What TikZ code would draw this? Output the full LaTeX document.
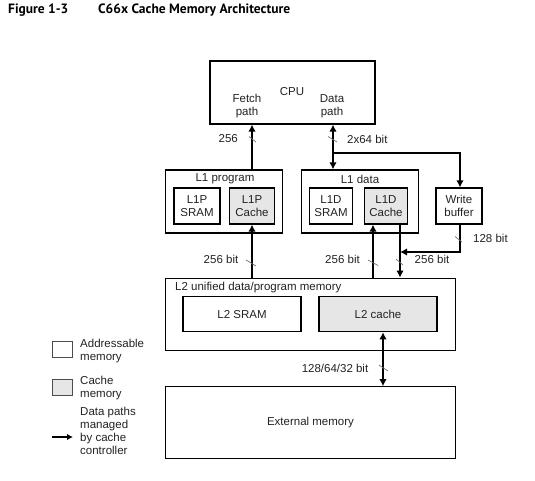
\documentclass[tikz,border=0pt]{standalone}
\usepackage{fontspec}
\setmainfont{Liberation Sans}
\newfontfamily\titlefont{PT Sans}
\usetikzlibrary{arrows.meta}
\definecolor{txt}{HTML}{222222}
\definecolor{cachegray}{HTML}{E6E6E6}
\begin{document}
\begin{tikzpicture}[x=1pt,y=-1pt,
  lbl/.style={font=\fontsize{11.5}{13}\selectfont, text=txt, inner sep=0pt, align=center},
  box/.style={draw=black, line width=1.2pt, inner sep=0pt, align=center, font=\fontsize{11.5}{13}\selectfont, text=txt},
  cbox/.style={box, fill=cachegray},
  bus/.style={line width=2.6pt, -{Latex[length=7pt,width=7.5pt]}},
  bibus/.style={line width=2.6pt, {Latex[length=7pt,width=7.5pt]}-{Latex[length=7pt,width=7.5pt]}},
  tickm/.style={draw=black!55, line width=0.7pt}
]
\useasboundingbox (0,0) rectangle (535,480);
% title
\node[anchor=west, inner sep=0pt, font=\titlefont\bfseries\fontsize{13.5}{15}\selectfont] (fig) at (8,10) {Figure 1-3};
\node[anchor=west, inner sep=0pt, font=\titlefont\bfseries\fontsize{13.5}{15}\selectfont] (ttl) at (98,10) {C66x Cache Memory Architecture};

% boxes
\node[box, minimum width=165, minimum height=63] (cpu) at (292.5,92.5) {};
\node[lbl] (cpul) at (292,92) {CPU};
\node[lbl] (fetch) at (247,106) {Fetch\\path};
\node[lbl] (datap) at (332,106) {Data\\path};

\node[box, minimum width=117, minimum height=63] (l1p) at (224.3,201.5) {};
\node[lbl] (l1pl) at (225,179) {L1 program};
\node[box, minimum width=46, minimum height=36] (l1psram) at (197,206) {L1P\\SRAM};
\node[cbox, minimum width=45, minimum height=36] (l1pcache) at (252,206) {L1P\\Cache};

\node[box, minimum width=117, minimum height=63] (l1d) at (360.3,201.5) {};
\node[lbl] (l1dl) at (360,179) {L1 data};
\node[box, minimum width=43, minimum height=36] (l1dsram) at (331,206) {L1D\\SRAM};
\node[cbox, minimum width=43, minimum height=36] (l1dcache) at (386,206) {L1D\\Cache};

\node[box, minimum width=46, minimum height=36] (wbuf) at (459,206) {Write\\buffer};

\node[box, minimum width=290, minimum height=72] (l2) at (310.7,314.2) {};
\node[lbl, anchor=west] (l2l) at (175,287.5) {L2 unified data/program memory};
\node[box, minimum width=118, minimum height=35] (l2sram) at (242,314.2) {L2 SRAM};
\node[cbox, minimum width=118, minimum height=35] (l2cache) at (378,314.2) {L2 cache};

\node[box, minimum width=290, minimum height=72] (ext) at (310.5,422.8) {External memory};

% helper coordinates
\coordinate (xf) at (252,0);
\coordinate (xd) at (333,0);
\coordinate (xw) at (460,0);
\coordinate (xu) at (373,0);
\coordinate (xdn) at (400,0);
\coordinate (xe) at (383,0);
\coordinate (br) at (333,153);
\coordinate (wbr) at (460,252);

% connectors
\draw[bus] (l1p.north -| xf) -- (cpu.south -| xf);
\draw[bibus] (cpu.south -| xd) -- (l1d.north -| xd);
\draw[bus] (br) -- (br -| xw) -- (wbuf.north -| xw);
\draw[bus] (l2.north -| xf) -- (l1pcache.south -| xf);
\draw[bus] (l2.north -| xu) -- (l1dcache.south -| xu);
\draw[bus] (l1dcache.south -| xdn) -- (l2.north -| xdn);
\draw[bus] (wbuf.south -| xw) -- (wbr) -- (wbr -| xdn);
\draw[bibus] (l2cache.south -| xe) -- (ext.north -| xe);

% ticks
\draw[tickm] (249,136.5) -- (256,142);
\draw[tickm] (328,136.5) -- (337,142);
\draw[tickm] (455,236.5) -- (462,242);
\draw[tickm] (246,260) -- (256,266);
\draw[tickm] (368,260) -- (378,265.5);
\draw[tickm] (396,259) -- (403,265);
\draw[tickm] (379,365) -- (388,371);

% bit labels
\node[lbl, anchor=east] (b256) at (238,139) {256};
\node[lbl, anchor=west] (b264) at (347,139) {2x64 bit};
\node[lbl, anchor=west] (b128) at (473,238) {128 bit};
\node[lbl] (b256a) at (221,259) {256 bit};
\node[lbl] (b256b) at (342.5,259) {256 bit};
\node[lbl] (b256c) at (432,259) {256 bit};
\node[lbl] (b1286432) at (335,368) {128/64/32 bit};

% legend
\node[box, line width=0.6pt, draw=black!70, minimum width=20, minimum height=16] (lg1) at (62,349) {};
\node[lbl, align=left, anchor=west] (lg1t) at (80,351) {Addressable\\memory};
\node[cbox, line width=0.6pt, draw=black!70, minimum width=20, minimum height=16] (lg2) at (62,387.5) {};
\node[lbl, align=left, anchor=west] (lg2t) at (80,388) {Cache\\memory};
\coordinate (la) at (52,437);
\coordinate (lb) at (73,437);
\draw[line width=2.2pt, -{Latex[length=6pt,width=6.5pt]}] (la) -- (lb);
\node[lbl, align=left, anchor=west] (lg3t) at (80,431) {Data paths\\managed\\by cache\\controller};
\end{tikzpicture}
\end{document}
